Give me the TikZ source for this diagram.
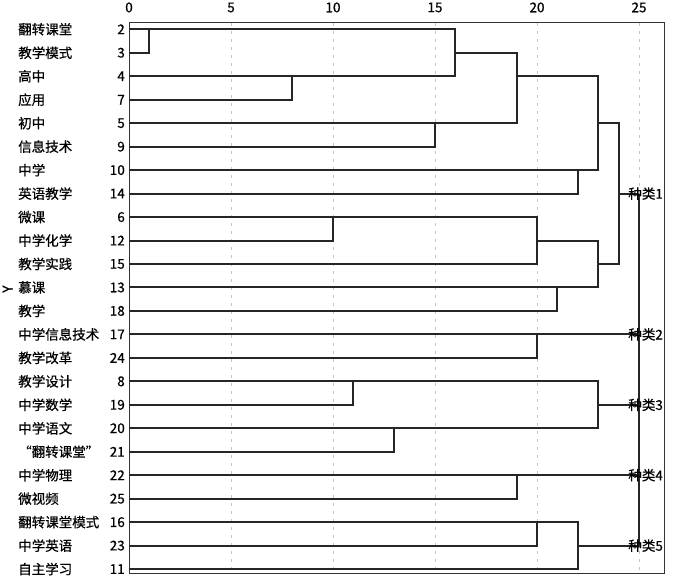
\documentclass[tikz,border=0pt]{standalone}
\usepackage{fontspec}
\setmainfont{Noto Sans CJK SC}[FakeBold=0.6]
\usepackage{tikz}
\usetikzlibrary{positioning, calc}

\begin{document}
\begin{tikzpicture}[
    x=20.4pt, y=-23.47pt,
    font=\fontsize{13.5}{16}\selectfont,
    term/.style={anchor=west, inner sep=0pt},
    num/.style={anchor=east, inner xsep=4pt, inner ysep=0pt},
    tick/.style={inner sep=0pt},
    link/.style={line width=2pt, black!85},
    grid/.style={gray!45, line width=0.8pt, dash pattern=on 3pt off 5pt},
    frame/.style={draw=black!80, line width=1pt},
    group/.style={anchor=east, inner sep=0pt}
]
\useasboundingbox (-6.324,-1.248) rectangle (26.716,23.549);

% Grid and frame
\foreach \d in {5,10,15,20,25}
  \draw[grid] (\d,-0.27) -- (\d,23.17);
\draw[frame] (0,-0.27) rectangle (26.27,23.17);

% Scale
\node[tick] (s0) at (0,-0.93) {0};
\node[tick] (s5) at (5,-0.93) {5};
\node[tick] (s10) at (10,-0.93) {10};
\node[tick] (s15) at (15,-0.93) {15};
\node[tick] (s20) at (20,-0.93) {20};
\node[tick] (s25) at (25,-0.93) {25};

% Axis title
\node[rotate=90, inner sep=0pt] (ytitle) at (-5.95,11.07) {Y};

% Terms (left) and case numbers
\node[term] (t2) at (-5.44,0) {翻转课堂};      \node[num] (n2) at (0,0) {2};
\node[term] (t3) at (-5.44,1) {教学模式};      \node[num] (n3) at (0,1) {3};
\node[term] (t4) at (-5.44,2) {高中};          \node[num] (n4) at (0,2) {4};
\node[term] (t7) at (-5.44,3) {应用};          \node[num] (n7) at (0,3) {7};
\node[term] (t5) at (-5.44,4) {初中};          \node[num] (n5) at (0,4) {5};
\node[term] (t9) at (-5.44,5) {信息技术};      \node[num] (n9) at (0,5) {9};
\node[term] (t10) at (-5.44,6) {中学};         \node[num] (n10) at (0,6) {10};
\node[term] (t14) at (-5.44,7) {英语教学};     \node[num] (n14) at (0,7) {14};
\node[term] (t6) at (-5.44,8) {微课};          \node[num] (n6) at (0,8) {6};
\node[term] (t12) at (-5.44,9) {中学化学};     \node[num] (n12) at (0,9) {12};
\node[term] (t15) at (-5.44,10) {教学实践};    \node[num] (n15) at (0,10) {15};
\node[term] (t13) at (-5.44,11) {慕课};        \node[num] (n13) at (0,11) {13};
\node[term] (t18) at (-5.44,12) {教学};        \node[num] (n18) at (0,12) {18};
\node[term] (t17) at (-5.44,13) {中学信息技术}; \node[num] (n17) at (0,13) {17};
\node[term] (t24) at (-5.44,14) {教学改革};    \node[num] (n24) at (0,14) {24};
\node[term] (t8) at (-5.44,15) {教学设计};     \node[num] (n8) at (0,15) {8};
\node[term] (t19) at (-5.44,16) {中学数学};    \node[num] (n19) at (0,16) {19};
\node[term] (t20) at (-5.44,17) {中学语文};    \node[num] (n20) at (0,17) {20};
\node[term] (t21) at (-5.44,18) {“翻转课堂”};  \node[num] (n21) at (0,18) {21};
\node[term] (t22) at (-5.44,19) {中学物理};    \node[num] (n22) at (0,19) {22};
\node[term] (t25) at (-5.44,20) {微视频};      \node[num] (n25) at (0,20) {25};
\node[term] (t16) at (-5.44,21) {翻转课堂模式}; \node[num] (n16) at (0,21) {16};
\node[term] (t23) at (-5.44,22) {中学英语};    \node[num] (n23) at (0,22) {23};
\node[term] (t11) at (-5.44,23) {自主学习};    \node[num] (n11) at (0,23) {11};

% Merge points
\coordinate (m1) at (1,0);
\coordinate (m2) at (8,2);
\coordinate (m3) at (16,1);
\coordinate (m4) at (15,4);
\coordinate (m5) at (19,2);
\coordinate (m6) at (22,6);
\coordinate (m7) at (23,4);
\coordinate (m8) at (10,8);
\coordinate (m9) at (20,9);
\coordinate (m10) at (21,11);
\coordinate (m11) at (23,10);
\coordinate (m12) at (24,7);
\coordinate (m13) at (20,13);
\coordinate (m14) at (11,15);
\coordinate (m15) at (13,17);
\coordinate (m16) at (23,16);
\coordinate (m17) at (19,19);
\coordinate (m18) at (20,21);
\coordinate (m19) at (22,22);

% Group ends at 25
\coordinate (k1) at (25,7);
\coordinate (k2) at (25,13);
\coordinate (k3) at (25,16);
\coordinate (k4) at (25,19);
\coordinate (k5) at (25,22);

% Links
\draw[link] (n2.east) -| (m1) |- (n3.east);
\draw[link] (n4.east) -| (m2) |- (n7.east);
\draw[link] (m1) -| (m3) |- (m2);
\draw[link] (n5.east) -| (m4) |- (n9.east);
\draw[link] (m3) -| (m5) |- (m4);
\draw[link] (n10.east) -| (m6) |- (n14.east);
\draw[link] (m5) -| (m7) |- (m6);
\draw[link] (n6.east) -| (m8) |- (n12.east);
\draw[link] (m8) -| (m9) |- (n15.east);
\draw[link] (n13.east) -| (m10) |- (n18.east);
\draw[link] (m9) -| (m11) |- (m10);
\draw[link] (m7) -| (m12) |- (m11);
\draw[link] (n17.east) -| (m13) |- (n24.east);
\draw[link] (n8.east) -| (m14) |- (n19.east);
\draw[link] (n20.east) -| (m15) |- (n21.east);
\draw[link] (m14) -| (m16) |- (m15);
\draw[link] (n22.east) -| (m17) |- (n25.east);
\draw[link] (n16.east) -| (m18) |- (n23.east);
\draw[link] (m18) -| (m19) |- (n11.east);

\draw[link] (m12) -- (k1);
\draw[link] (m13) -- (k2);
\draw[link] (m16) -- (k3);
\draw[link] (m17) -- (k4);
\draw[link] (m19) -- (k5);
\draw[link] (k1) -- (k5);

% Group labels
\node[group] (g1) at (26.18,7) {种类1};
\node[group] (g2) at (26.18,13) {种类2};
\node[group] (g3) at (26.18,16) {种类3};
\node[group] (g4) at (26.18,19) {种类4};
\node[group] (g5) at (26.18,22) {种类5};

\end{tikzpicture}
\end{document}
